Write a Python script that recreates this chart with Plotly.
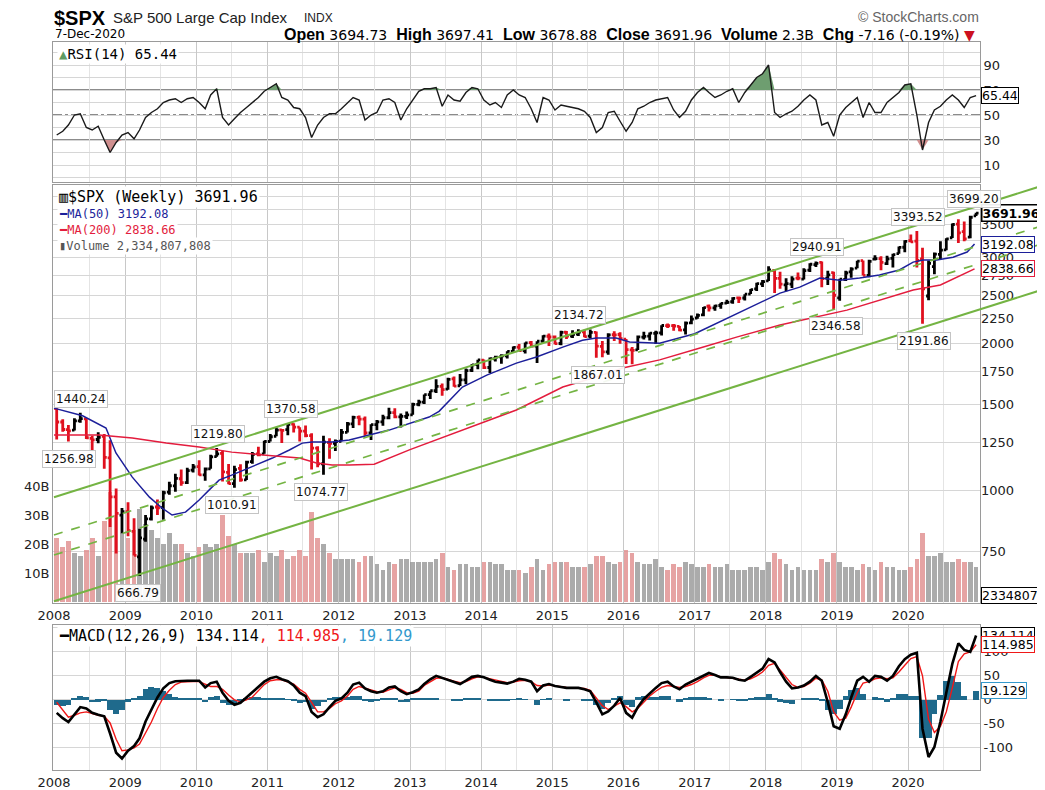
import numpy as np
import pandas as pd
import plotly.graph_objects as go

# ============================
# Chart data (monthly)
# ============================
months = (pd.date_range("2008-01-01", "2020-12-01", freq="MS") + pd.Timedelta(days=14)).strftime("%Y-%m-%d").tolist()
year_ticks = [f"{y}-01-01" for y in range(2008, 2021)]
year_labels = [str(y) for y in range(2008, 2021)]

spx_open = [
    1467.97, 1378.60, 1330.45, 1326.41, 1385.97, 1399.62, 1276.69, 1269.42, 1287.83, 1164.17, 968.67, 888.61,
    902.99, 823.09, 729.57, 793.59, 872.74, 923.26, 920.82, 990.22, 1019.52, 1054.91, 1036.18, 1098.89,
    1116.56, 1073.89, 1105.36, 1171.23, 1188.58, 1087.30, 1031.10, 1107.53, 1049.72, 1143.49, 1185.71, 1186.60,
    1257.62, 1289.14, 1328.64, 1329.48, 1365.21, 1345.20, 1320.64, 1292.59, 1219.12, 1131.21, 1251.00, 1246.91,
    1258.86, 1312.45, 1365.90, 1408.47, 1397.86, 1309.87, 1362.33, 1379.32, 1406.54, 1440.90, 1412.20, 1416.18,
    1426.19, 1498.11, 1514.68, 1569.18, 1597.55, 1631.71, 1609.78, 1689.42, 1635.95, 1682.41, 1758.70, 1806.55,
    1845.86, 1782.68, 1857.68, 1873.96, 1884.39, 1923.87, 1962.29, 1929.80, 2004.07, 1971.44, 2018.21, 2065.78,
    2058.90, 1996.67, 2105.23, 2067.63, 2087.38, 2108.64, 2067.00, 2104.49, 1970.09, 1919.65, 2080.76, 2082.93,
    2038.20, 1936.94, 1937.09, 2056.62, 2067.17, 2093.94, 2099.34, 2173.15, 2171.33, 2164.33, 2128.68, 2200.17,
    2251.57, 2285.59, 2380.13, 2362.34, 2388.50, 2415.65, 2431.39, 2477.10, 2474.42, 2521.20, 2583.21, 2645.10,
    2683.73, 2816.45, 2715.22, 2633.45, 2642.96, 2718.70, 2704.95, 2821.17, 2896.96, 2926.29, 2717.58, 2790.50,
    2476.96, 2702.32, 2798.22, 2848.63, 2952.33, 2751.53, 2971.41, 2980.32, 2909.01, 2983.69, 3050.72, 3143.85,
    3244.67, 3235.66, 2974.28, 2498.08, 2869.09, 3038.78, 3105.92, 3288.26, 3507.44, 3385.87, 3296.20, 3645.87,
]
spx_high = [
    1471.77, 1396.02, 1359.68, 1404.00, 1440.24, 1404.05, 1292.17, 1313.15, 1303.04, 1264.80, 1007.51, 918.85,
    943.85, 875.01, 832.98, 888.70, 930.17, 956.23, 996.68, 1039.47, 1080.15, 1101.36, 1111.10, 1130.38,
    1150.45, 1112.42, 1180.69, 1219.80, 1205.13, 1131.23, 1120.95, 1129.24, 1148.90, 1196.14, 1227.08, 1262.60,
    1302.67, 1344.07, 1332.28, 1364.56, 1370.58, 1345.20, 1356.48, 1307.38, 1229.29, 1292.66, 1277.55, 1269.37,
    1333.47, 1378.04, 1419.15, 1422.38, 1415.32, 1363.46, 1391.74, 1426.68, 1474.51, 1470.96, 1434.27, 1448.00,
    1509.94, 1530.94, 1570.28, 1597.57, 1687.18, 1654.19, 1698.78, 1709.67, 1729.86, 1775.22, 1813.55, 1849.44,
    1850.84, 1867.92, 1883.97, 1897.28, 1924.03, 1968.17, 1991.39, 2005.04, 2019.26, 2018.19, 2075.76, 2093.55,
    2072.36, 2119.59, 2117.52, 2125.92, 2134.72, 2129.87, 2132.82, 2112.66, 2020.86, 2094.32, 2116.48, 2104.27,
    2038.20, 1962.96, 2072.21, 2111.05, 2103.48, 2120.55, 2177.09, 2193.81, 2187.87, 2169.60, 2214.10, 2277.53,
    2300.99, 2371.54, 2400.98, 2398.16, 2418.71, 2453.82, 2484.04, 2490.87, 2519.44, 2582.98, 2657.74, 2694.97,
    2872.87, 2835.96, 2801.90, 2717.49, 2742.24, 2791.47, 2848.03, 2916.50, 2940.91, 2939.86, 2815.15, 2800.18,
    2708.95, 2813.49, 2860.31, 2949.52, 2954.13, 2964.15, 3027.98, 3013.59, 3021.99, 3050.10, 3154.26, 3247.93,
    3337.77, 3393.52, 3136.72, 2954.86, 3068.67, 3233.13, 3279.99, 3514.77, 3588.11, 3549.85, 3645.99, 3699.20,
]
spx_low = [
    1270.05, 1316.75, 1256.98, 1324.35, 1373.07, 1272.00, 1200.44, 1247.45, 1106.39, 839.80, 741.02, 815.69,
    804.30, 734.52, 666.79, 783.32, 866.10, 888.86, 869.32, 978.51, 991.97, 1020.18, 1029.38, 1085.89,
    1071.59, 1044.50, 1105.36, 1170.69, 1040.78, 1028.33, 1010.91, 1039.70, 1048.08, 1131.87, 1173.00, 1186.60,
    1257.62, 1289.14, 1249.05, 1294.70, 1311.80, 1258.07, 1282.86, 1101.54, 1114.22, 1074.77, 1158.66, 1202.37,
    1258.86, 1312.45, 1340.03, 1357.38, 1291.98, 1266.74, 1325.41, 1354.65, 1396.56, 1403.28, 1343.35, 1398.11,
    1426.19, 1485.01, 1501.48, 1536.03, 1581.28, 1560.33, 1604.57, 1627.47, 1633.41, 1646.47, 1746.20, 1767.99,
    1770.45, 1737.92, 1834.44, 1814.36, 1859.79, 1915.98, 1930.67, 1904.78, 1964.04, 1820.66, 2001.01, 1972.56,
    1988.12, 1980.90, 2039.69, 2048.38, 2067.93, 2056.32, 2044.02, 1867.01, 1871.91, 1893.70, 2019.39, 1993.26,
    1812.29, 1810.10, 1937.09, 2033.80, 2025.91, 1991.68, 2074.02, 2147.58, 2119.12, 2114.72, 2083.79, 2187.44,
    2245.13, 2271.65, 2322.25, 2328.95, 2352.72, 2405.70, 2407.70, 2417.35, 2446.55, 2520.40, 2557.45, 2605.52,
    2682.36, 2532.69, 2585.89, 2553.80, 2594.62, 2691.99, 2698.95, 2796.34, 2864.12, 2603.54, 2631.09, 2346.58,
    2443.96, 2681.83, 2722.27, 2848.63, 2750.52, 2728.81, 2952.22, 2822.12, 2891.85, 2855.94, 3050.72, 3070.33,
    3214.64, 2855.84, 2191.86, 2447.49, 2766.64, 2965.66, 3101.17, 3284.53, 3209.45, 3233.94, 3279.74, 3644.85,
]
spx_close = [
    1378.55, 1330.63, 1322.70, 1385.59, 1400.38, 1280.00, 1267.38, 1282.83, 1166.36, 968.75, 896.24, 903.25,
    825.88, 735.09, 797.87, 872.81, 919.14, 919.32, 987.48, 1020.62, 1057.08, 1036.19, 1095.63, 1115.10,
    1073.87, 1104.49, 1169.43, 1186.69, 1089.41, 1030.71, 1101.60, 1049.33, 1141.20, 1183.26, 1180.55, 1257.64,
    1286.12, 1327.22, 1325.83, 1363.61, 1345.20, 1320.64, 1292.28, 1218.89, 1131.42, 1253.30, 1246.96, 1257.60,
    1312.41, 1365.68, 1408.47, 1397.91, 1310.33, 1362.16, 1379.32, 1406.58, 1440.67, 1412.16, 1416.18, 1426.19,
    1498.11, 1514.68, 1569.19, 1597.57, 1630.74, 1606.28, 1685.73, 1632.97, 1681.55, 1756.54, 1805.81, 1848.36,
    1782.59, 1859.45, 1872.34, 1883.95, 1923.57, 1960.23, 1930.67, 2003.37, 1972.29, 2018.05, 2067.56, 2058.90,
    1994.99, 2104.50, 2067.89, 2085.51, 2107.39, 2063.11, 2103.84, 1972.18, 1920.03, 2079.36, 2080.41, 2043.94,
    1940.24, 1932.23, 2059.74, 2065.30, 2096.95, 2098.86, 2173.60, 2170.95, 2168.27, 2126.15, 2198.81, 2238.83,
    2278.87, 2363.64, 2362.72, 2384.20, 2411.80, 2423.41, 2470.30, 2471.65, 2519.36, 2575.26, 2647.58, 2673.61,
    2823.81, 2713.83, 2640.87, 2648.05, 2705.27, 2718.37, 2816.29, 2901.52, 2913.98, 2711.74, 2760.17, 2506.85,
    2704.10, 2784.49, 2834.40, 2945.83, 2752.06, 2941.76, 2980.38, 2926.46, 2976.74, 3037.56, 3140.98, 3230.78,
    3225.52, 2954.22, 2584.59, 2912.43, 3044.31, 3100.29, 3271.12, 3500.31, 3363.00, 3269.96, 3621.63, 3691.96,
]
# typical weekly volume in each month, billions of shares
volume_b = [
    22, 19, 21, 17, 16, 18, 22, 16, 28, 38, 30, 24,
    22, 25, 32, 27, 25, 22, 20, 24, 20, 20, 17, 16,
    19, 20, 19, 20, 30, 23, 20, 17, 17, 17, 18, 14,
    17, 16, 18, 15, 16, 18, 16, 31, 22, 20, 17, 15,
    15, 15, 15, 14, 16, 16, 13, 11, 14, 13, 15, 15,
    14, 14, 14, 14, 15, 17, 12, 11, 13, 13, 12, 12,
    14, 14, 13, 13, 11, 11, 11, 10, 12, 15, 11, 13,
    14, 14, 14, 12, 12, 12, 13, 16, 16, 14, 13, 14,
    18, 17, 14, 13, 13, 15, 12, 11, 13, 12, 14, 13,
    12, 12, 13, 12, 12, 13, 11, 11, 11, 12, 12, 11,
    14, 17, 15, 13, 11, 12, 11, 11, 11, 15, 14, 17,
    14, 12, 12, 11, 13, 12, 11, 14, 12, 12, 11, 11,
    12, 15, 24, 16, 16, 17, 14, 14, 15, 14, 14, 12,
]

ma50_dates = [
    "2008-01-01", "2008-05-27", "2008-09-24", "2008-11-14", "2009-02-06", "2009-05-05", "2009-07-08",
    "2009-08-29", "2009-11-06", "2010-01-15", "2010-03-22", "2010-04-27", "2010-07-01", "2010-10-12",
    "2011-01-26", "2011-04-23", "2011-06-28", "2011-08-18", "2011-11-28", "2012-02-24", "2012-09-16",
    "2013-04-09", "2013-05-30", "2013-09-27", "2014-01-30", "2014-07-01", "2014-10-12", "2015-02-24",
    "2015-06-05", "2015-08-15", "2015-11-25", "2016-02-02", "2016-05-15", "2016-07-05", "2017-01-01",
    "2017-07-01", "2018-01-01", "2018-03-15", "2018-06-24", "2018-10-05", "2019-01-15", "2019-04-27",
    "2019-08-07", "2019-11-17", "2020-01-27", "2020-03-18", "2020-05-27", "2020-08-19", "2020-10-30",
    "2020-12-07",
]
ma50_vals = [
    1472, 1420, 1340, 1191, 1063, 967, 919, 889, 901, 954, 1014, 1048, 1073, 1115,
    1163, 1208, 1248, 1254, 1254, 1266, 1327, 1411, 1450, 1626, 1720, 1820, 1873, 1963,
    2028, 2048, 2048, 2010, 2000, 2000, 2090, 2260, 2450, 2532, 2605, 2719, 2692, 2719,
    2757, 2824, 2931, 2960, 2960, 3000, 3074, 3192.08,
]
ma200_dates = [
    "2008-01-01", "2008-08-20", "2009-02-06", "2009-07-30", "2010-01-15", "2010-07-01", "2010-12-24",
    "2011-06-14", "2011-09-09", "2011-11-28", "2012-02-24", "2012-07-01", "2013-01-01", "2013-09-27",
    "2014-07-01", "2015-02-24", "2015-08-15", "2015-12-28", "2016-07-05", "2017-02-06", "2017-08-08",
    "2018-03-15", "2019-02-21", "2020-01-27", "2020-06-15", "2020-12-07",
]
ma200_vals = [
    1296, 1296, 1278, 1248, 1225, 1196, 1179, 1163, 1136, 1125, 1125, 1130, 1210, 1327,
    1459, 1626, 1705, 1779, 1848, 1960, 2060, 2178, 2337, 2570, 2631, 2838.66,
]

rsi = [
    34, 37, 42, 50, 51, 40, 38, 41, 30, 20, 28, 34,
    36, 31, 38, 48, 52, 55, 60, 62, 63, 60, 63, 64,
    60, 55, 66, 71, 48, 42, 47, 52, 56, 60, 64, 69,
    72, 75, 64, 62, 56, 55, 48, 32, 42, 48, 51, 51,
    55, 60, 64, 62, 46, 50, 52, 62, 63, 60, 46, 55,
    62, 69, 71, 71, 72, 57, 66, 62, 61, 68, 72, 71,
    62, 58, 60, 56, 66, 70, 66, 64, 55, 44, 64, 62,
    54, 58, 57, 56, 55, 53, 48, 36, 40, 52, 53, 45,
    37, 44, 55, 57, 60, 62, 63, 64, 54, 48, 53, 62,
    68, 72, 68, 64, 66, 69, 71, 60, 68, 74, 80, 83,
    90, 52, 48, 51, 53, 57, 62, 66, 62, 42, 44, 33,
    50, 56, 60, 64, 48, 60, 52, 52, 60, 64, 68, 74,
    75, 50, 22, 44, 54, 57, 62, 66, 62, 56, 64, 65.44,
]
macd = [
    -27, -38, -46, -30, -15, -18, -27, -31, -34, -70, -110, -122,
    -106, -96, -80, -45, -21, 5, 24, 35, 39, 40, 40, 40,
    40, 26, 35, 38, 15, -2, -10, -6, 5, 15, 28, 38,
    45, 48, 43, 39, 30, 15, 8, -25, -36, -30, -15, -2,
    3, 15, 32, 36, 24, 18, 15, 18, 26, 28, 18, 12,
    16, 22, 33, 43, 50, 46, 42, 38, 33, 40, 48, 50,
    47, 42, 38, 36, 34, 38, 44, 42, 38, 18, 30, 33,
    29, 27, 25, 25, 25, 22, 18, -5, -30, -24, -12, 4,
    -27, -37, -15, 2, 14, 25, 35, 38, 28, 22, 32, 38,
    45, 52, 56, 52, 47, 47, 46, 42, 40, 48, 56, 65,
    85, 78, 58, 38, 24, 26, 30, 38, 50, 40, -5, -55,
    -60, -30, 5, 40, 48, 38, 50, 48, 40, 50, 70, 85,
    94, 98, -60, -119, -98, -45, 15, 75, 118, 104, 100, 134.114,
]
macd_signal = [
    -5, -20, -36, -32, -27, -25, -29, -32, -34, -48, -82, -106,
    -104, -100, -92, -70, -46, -18, 5, 20, 32, 37, 38, 38,
    38, 33, 28, 28, 22, 10, 0, -4, 0, 6, 20, 32,
    40, 42, 42, 38, 33, 22, 14, -5, -25, -25, -18, -8,
    -2, 8, 22, 28, 25, 21, 17, 16, 21, 25, 22, 15,
    14, 18, 30, 38, 45, 46, 42, 39, 36, 38, 44, 48,
    47, 44, 41, 38, 36, 37, 40, 41, 38, 30, 29, 31,
    29, 27, 26, 25, 25, 24, 20, 5, -12, -20, -12, -6,
    -14, -25, -18, -5, 8, 18, 26, 30, 28, 26, 28, 32,
    38, 46, 51, 52, 48, 47, 45, 43, 41, 44, 50, 58,
    72, 76, 62, 45, 32, 26, 28, 35, 45, 42, 18, -25,
    -42, -38, -15, 15, 35, 38, 44, 46, 44, 46, 58, 72,
    86, 90, 50, -40, -68, -55, -25, 25, 80, 96, 100, 114.985,
]
macd_hist = [
    -10, -12, -10, 2, 8, 6, -5, -4, -2, -22, -30, -20,
    -4, 3, 8, 22, 27, 24, 18, 12, 7, 4, 3, 2,
    2, -5, 6, 9, -6, -10, -9, -3, 4, 7, 7, 5,
    4, 4, 2, 1, -3, -7, -5, -18, -12, -5, 3, 6,
    6, 7, 9, 8, -3, -4, -2, 2, 5, 5, -5, -4,
    2, 4, 3, 4, 5, 0, 0, -2, -3, 2, 3, 2,
    0, -2, -3, -2, -2, 1, 3, 1, 0, -10, 1, 2,
    0, 0, -1, 0, 0, -2, -2, -10, -18, -6, 3, 8,
    -10, -14, 6, 8, 6, 7, 8, 8, 0, -4, 3, 6,
    7, 6, 5, 0, -1, 0, 1, -1, -1, 4, 6, 7,
    13, 2, -4, -7, -8, 0, 2, 3, 5, -2, -20, -30,
    -18, 8, 20, 25, 13, 0, 6, 2, -4, 4, 12, 13,
    8, 8, -80, -79, -30, 10, 40, 50, 38, 8, 0, 19.129,
]

# regression channel drawn on the chart: price at start and end date
channel_dates = ["2008-01-01", "2021-12-01"]
channel_upper = [967, 4217]
channel_upper_mid = [809, 3491]
channel_lower_mid = [736, 3207]
channel_lower = [592, 2582]

# labelled highs / lows
peak_dates = ["2008-05-19", "2008-03-17", "2009-03-06", "2010-04-23", "2010-07-01", "2011-05-02", "2011-10-04",
              "2015-05-20", "2015-08-24", "2018-09-21", "2018-12-26", "2020-02-19", "2020-03-23", "2020-12-04"]
peak_values = [1440.24, 1256.98, 666.79, 1219.80, 1010.91, 1370.58, 1074.77,
               2134.72, 1867.01, 2940.91, 2346.58, 3393.52, 2191.86, 3699.20]
peak_above = [True, False, False, True, False, True, False, True, False, True, False, True, False, True]

price_ticks = [750, 1000, 1250, 1500, 1750, 2000, 2250, 2500, 2750, 3000, 3250, 3500, 3750, 4000]
price_tick_labels = ["750", "1000", "1250", "1500", "1750", "2000", "2250", "2500", "2750", "3000", "", "3500", "", ""]

# ============================
# Page geometry: everything below is in picture pixels
# (the page body adds an 8px margin around the figure)
# ============================
W, H = 1045, 790
PAGE_PAD = 8
REF_L, REF_R, REF_T, REF_B = 53, 980, 42, 770
PLOT_W, PLOT_H = REF_R - REF_L, REF_B - REF_T
MARGIN = dict(l=REF_L - PAGE_PAD, r=W - (REF_R - PAGE_PAD), t=REF_T - PAGE_PAD, b=H - (REF_B - PAGE_PAD))
X0, X1 = pd.Timestamp("2007-12-27"), pd.Timestamp("2021-01-04")


def py(row):
    return (REF_B - row) / PLOT_H


def px(col):
    return (col - REF_L) / PLOT_W


def date_to_paper(d):
    return (pd.Timestamp(d) - X0) / (X1 - X0)


GRID = "#d6d6d6"
BORDER = "#9a9a9a"
TICKFONT = dict(family="DejaVu Sans", size=13, color="#222")
MONO = "DejaVu Sans Mono"

fig = go.Figure()

# volume behind the price bars
prev_close = [spx_open[0]] + spx_close[:-1]
vol_colors = ["rgba(150,150,150,0.8)" if c >= p else "rgba(224,140,140,0.8)" for c, p in zip(spx_close, prev_close)]
fig.add_trace(go.Bar(x=months, y=volume_b, xaxis="x2", yaxis="y2", marker=dict(color=vol_colors, line_width=0),
                     width=24 * 86400000, hoverinfo="skip"))

# price bars and moving averages
fig.add_trace(go.Ohlc(x=months, open=spx_open, high=spx_high, low=spx_low, close=spx_close,
                      xaxis="x2", yaxis="y4", tickwidth=0.45,
                      increasing=dict(line=dict(color="#000000", width=2.8)),
                      decreasing=dict(line=dict(color="#e0101e", width=2.8))))
fig.add_trace(go.Scatter(x=ma50_dates, y=ma50_vals, xaxis="x2", yaxis="y4", mode="lines",
                         line=dict(color="#1c1f9a", width=1.5)))
fig.add_trace(go.Scatter(x=ma200_dates, y=ma200_vals, xaxis="x2", yaxis="y4", mode="lines",
                         line=dict(color="#e31c3d", width=1.5)))

# RSI with overbought / oversold fills
rsi_hi = [max(v, 70) for v in rsi]
rsi_lo = [min(v, 30) for v in rsi]
for base, part, color in [(70, rsi_hi, "#6e9e70"), (30, rsi_lo, "#d08f8f")]:
    fig.add_trace(go.Scatter(x=months, y=[base] * len(months), xaxis="x3", yaxis="y3", mode="lines",
                             line=dict(width=0), hoverinfo="skip"))
    fig.add_trace(go.Scatter(x=months, y=part, xaxis="x3", yaxis="y3", mode="lines", fill="tonexty",
                             fillcolor=color, line=dict(width=0), hoverinfo="skip"))
fig.add_trace(go.Scatter(x=months, y=rsi, xaxis="x3", yaxis="y3", mode="lines",
                         line=dict(color="#1a1a1a", width=1.4)))

# MACD
fig.add_trace(go.Bar(x=months, y=macd_hist, xaxis="x", yaxis="y", marker=dict(color="#1f6a8c", line_width=0),
                     width=31 * 86400000))
fig.add_trace(go.Scatter(x=months, y=macd_signal, xaxis="x", yaxis="y", mode="lines",
                         line=dict(color="#f01818", width=1.4)))
fig.add_trace(go.Scatter(x=months, y=macd, xaxis="x", yaxis="y", mode="lines",
                         line=dict(color="#000000", width=2.6)))

# ============================
# Axes
# ============================
xcommon = dict(type="date", range=[X0, X1], tickmode="array", tickvals=year_ticks, ticktext=year_labels,
               showgrid=True, gridcolor="#c8c8c8", minor=dict(dtick="M6", tick0="2008-01-01", showgrid=True,
                                                              gridcolor="#e4e4e4"),
               showline=True, linecolor=BORDER, mirror=True, ticks="", zeroline=False, automargin=False,
               tickfont=TICKFONT, rangeslider=dict(visible=False))
ycommon = dict(showline=True, linecolor=BORDER, mirror=True, ticks="", zeroline=False, gridcolor=GRID,
               automargin=False, tickfont=TICKFONT)

fig.update_layout(
    xaxis=dict(xcommon, anchor="y"),
    xaxis2=dict(xcommon, anchor="y2", matches="x"),
    xaxis3=dict(xcommon, anchor="y3", matches="x", showticklabels=False),
    yaxis=dict(ycommon, domain=[py(770), py(625)], anchor="x", side="right", range=[-146, 156],
               tickvals=[-100, -50, 0, 50, 100, 150], ticktext=["-100", "-50", "0", "50", "100", ""]),
    yaxis2=dict(ycommon, domain=[py(603), py(185)], anchor="x2", side="left", range=[-0.3, 144],
                tickvals=[10, 20, 30, 40], ticktext=["10B", "20B", "30B", "40B"], showgrid=False),
    yaxis4=dict(ycommon, overlaying="y2", anchor="x2", side="right", type="log",
                range=[np.log10(587), np.log10(4217)], tickvals=price_ticks, ticktext=price_tick_labels,
                showline=False),
    yaxis3=dict(ycommon, domain=[py(182), py(42)], anchor="x3", side="right", range=[-3.6, 108.4],
                tickvals=[10, 30, 50, 70, 90],
                minor=dict(tickmode="linear", tick0=0, dtick=10, showgrid=True, gridcolor=GRID)),
)

# ============================
# Lines: channel and RSI levels
# ============================
shapes = []
for vals, dash, w in [(channel_upper, "solid", 2), (channel_upper_mid, "dash", 1.7),
                      (channel_lower_mid, "dash", 1.7), (channel_lower, "solid", 2)]:
    shapes.append(dict(type="line", xref="paper", yref="y4", x0=date_to_paper(channel_dates[0]),
                       x1=date_to_paper(channel_dates[1]), y0=vals[0], y1=vals[1], layer="above",
                       line=dict(color="#74b443", width=w, dash=dash)))
for level, dash in [(70, "solid"), (30, "solid"), (50, "dashdot")]:
    shapes.append(dict(type="line", xref="paper", yref="y3", x0=0, x1=1, y0=level, y1=level, layer="below",
                       line=dict(color="#666666", width=1.3, dash=dash)))

# ============================
# Text
# ============================
ann = []


def text(x, y, s, size=12, color="#000", family="DejaVu Sans", xanchor="left", **kw):
    ann.append(dict(xref="paper", yref="paper", x=x, y=y, text=s, showarrow=False, xanchor=xanchor,
                    yanchor="middle", font=dict(family=family, size=size, color=color), **kw))


def label(s):
    return f"<span style='font-family:Liberation Sans;font-size:16px'><b>{s}</b></span>"


text(px(52), py(18), "<b>$SPX</b>", size=20, family="Liberation Sans")
text(px(111), py(18), "S&P 500 Large Cap Index", size=15, family="Liberation Sans", color="#222")
text(px(302), py(18), "INDX", size=12, family="Liberation Sans", color="#222")
text(px(53), py(34), "7-Dec-2020", size=12)
text(px(977), py(34), f"{label('Open')} 3694.73&nbsp; {label('High')} 3697.41&nbsp; {label('Low')} 3678.88&nbsp; "
     f"{label('Close')} 3691.96&nbsp; {label('Volume')} 2.3B&nbsp; {label('Chg')} -7.16 (-0.19%) "
     "<span style='color:#cc1020'>▼</span>", size=14, xanchor="right")
text(px(981), py(17), "© StockCharts.com", size=14, family="Liberation Sans", color="#666", xanchor="right")

# panel legends
text(px(57), py(54), "<span style='color:#5f9a62'>▲</span>RSI(14) 65.44", size=14, family=MONO, bgcolor="white")
text(px(57), py(197), "<b>▥</b>$SPX (Weekly) 3691.96", size=15, family=MONO, bgcolor="white")
text(px(57), py(214), "━MA(50) 3192.08", size=12, family=MONO, color="#1c1f9a", bgcolor="white")
text(px(57), py(230), "━MA(200) 2838.66", size=12, family=MONO, color="#e31c3d", bgcolor="white")
text(px(57), py(246), "▮Volume 2,334,807,808", size=12, family=MONO, color="#555", bgcolor="white")
text(px(57), py(636), "━MACD(12,26,9) 134.114<span style='color:#f01818'>, 114.985</span>"
     "<span style='color:#3399cc'>, 19.129</span>", size=15, family=MONO, bgcolor="white")

# last-value tags on the right axis
for yref, yv, s, bc, bold in [("y3", 65.44, "65.44", "#000", False),
                              ("y4", np.log10(3691.96), "3691.96", "#000", True),
                              ("y4", np.log10(3192.08), "3192.08", "#1c1f9a", False),
                              ("y4", np.log10(2838.66), "2838.66", "#e31c3d", False),
                              ("y2", 2.33, "2334807", "#000", False),
                              ("y", 134.114, "134.114", "#000", False),
                              ("y", 114.985, "114.985", "#f01818", False),
                              ("y", 19.129, "19.129", "#3399cc", False)]:
    ann.append(dict(xref="paper", yref=yref, x=px(981), y=yv, text=f"<b>{s}</b>" if bold else s,
                    showarrow=False, xanchor="left", yanchor="middle", bgcolor="white", bordercolor=bc,
                    borderwidth=1.5 if bold else 1, borderpad=0,
                    font=dict(family="DejaVu Sans", size=12.5, color="#000")))

# boxed high / low values
for d, v, up in zip(peak_dates, peak_values, peak_above):
    ann.append(dict(xref="x2", yref="y4", x=d, y=np.log10(v), text=f"{v:.2f}", showarrow=False,
                    yshift=14 if up else -17, bgcolor="rgba(255,255,255,0.92)", bordercolor="#c4c4c4",
                    borderwidth=1, borderpad=1, font=dict(family="DejaVu Sans", size=12, color="#111")))

fig.update_layout(
    width=W, height=H, autosize=False,
    margin=MARGIN,
    paper_bgcolor="white", plot_bgcolor="white",
    showlegend=False, bargap=0,
    font=dict(family="DejaVu Sans", size=12, color="#222"),
    shapes=shapes, annotations=ann,
)

fig.write_html("out.html")
